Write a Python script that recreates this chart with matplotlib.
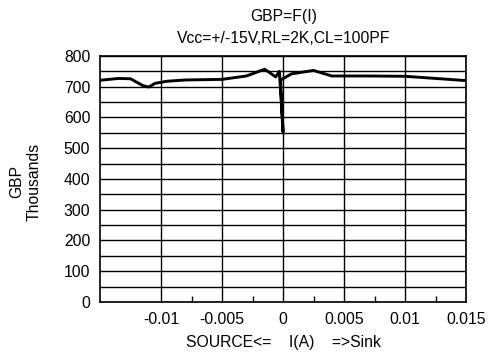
import matplotlib
matplotlib.use('Agg')
import matplotlib.pyplot as plt
import numpy as np

plt.rcParams['font.family'] = ['Liberation Sans', 'DejaVu Sans']

# current sweep from source to sink (A) and GBP (thousands)
current = [-0.015, -0.0135, -0.0125, -0.0115, -0.011, -0.0105, -0.0095, -0.008,
           -0.005, -0.003, -0.0015, -0.0006, -0.0003, 0.0, -0.0002, 0.0007,
           0.0025, 0.004, 0.007, 0.010, 0.015]
gbp = [721, 727, 726, 704, 699, 711, 718, 722,
       724, 735, 757, 732, 750, 553, 722, 742,
       753, 735, 735, 734, 720]

x_ticks = [-0.01, -0.005, 0, 0.005, 0.01, 0.015]
x_minor = [-0.0075, -0.0025, 0.0025, 0.0075, 0.0125]

fs = 11.3

fig = plt.figure(figsize=(4.91, 3.56), dpi=100)
ax = fig.add_axes([0.2037, 0.1517, 0.7455, 0.6910])

ax.plot(current, gbp, color='black', linewidth=2.1, solid_joinstyle='round', zorder=3)

ax.set_xlim(-0.015, 0.015)
ax.set_ylim(0, 800)
ax.set_xticks(x_ticks)
ax.set_xticklabels(['-0.01', '-0.005', '0', '0.005', '0.01', '0.015'])
ax.set_xticks(x_minor, minor=True)
ax.set_yticks(np.arange(0, 801, 100))
ax.set_yticks(np.arange(50, 800, 100), minor=True)

ax.grid(True, which='major', color='black', linewidth=1.0)
ax.grid(True, which='minor', axis='y', color='black', linewidth=1.0)
ax.tick_params(axis='both', which='major', length=0, labelsize=fs)
ax.tick_params(axis='x', which='major', pad=7)
ax.tick_params(axis='y', which='major', pad=7)
ax.tick_params(axis='x', which='minor', direction='in', length=4, width=1, color='black')
ax.tick_params(axis='y', which='minor', length=0)
for s in ax.spines.values():
    s.set_color('black')
    s.set_linewidth(1.2)

ax.set_xlabel('SOURCE<=    I(A)    =>Sink', fontsize=fs, labelpad=6)
fig.text(0.052, 0.49, 'GBP\nThousands', rotation=90, ha='center', va='center',
         fontsize=fs, linespacing=1.15)
fig.text(0.578, 0.955, 'GBP=F(I)', ha='center', va='center', fontsize=fs)
fig.text(0.578, 0.891, 'Vcc=+/-15V,RL=2K,CL=100PF', ha='center', va='center', fontsize=fs)

fig.savefig('out.png', dpi=100)
